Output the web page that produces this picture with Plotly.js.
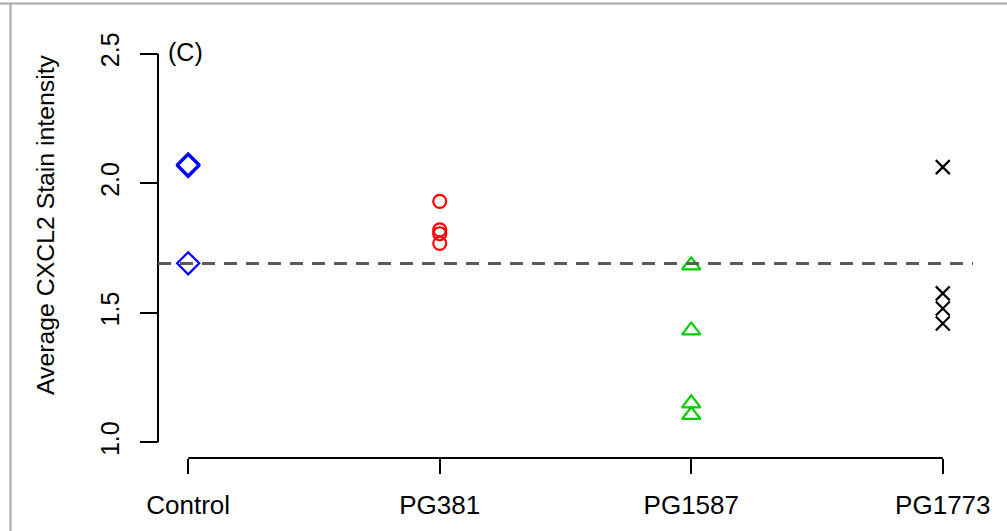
<!DOCTYPE html>
<html>
<head>
<meta charset="utf-8">
<script src="https://cdn.plot.ly/plotly-3.0.1.min.js"></script>
<style>
html,body{margin:0;padding:0;background:#fff;}
#chart{width:1007px;height:531px;}
</style>
</head>
<body>
<div id="chart"></div>
<script>
// ---- data ----
const categories = ["Control", "PG381", "PG1587", "PG1773"];
const controlVals = [2.073, 2.066, 2.07, 1.691];
const pg381Vals = [1.93, 1.82, 1.805, 1.768];
const pg1587Vals = [1.683, 1.432, 1.151, 1.106];
const pg1773Vals = [2.062, 1.575, 1.517, 1.459];
const meanLine = 1.69;
const yTickVals = [1.0, 1.5, 2.0, 2.5];
const yTickText = ["1.0", "1.5", "2.0", "2.5"];
const panelLabel = "(C)";
const yTitle = "Average CXCL2 Stain intensity";

// ---- layout constants ----
const W = 1007, H = 531;
const M = {l: 158, r: 34, t: 38, b: 73};
const plotW = W - M.l - M.r, plotH = H - M.t - M.b;
const xPos = categories.map((c, i) => i + 1);
const font = "Liberation Sans, Arial, Helvetica, sans-serif";

function series(vals, idx, symbol, color, size) {
  return {
    type: "scatter", mode: "markers",
    x: vals.map(() => xPos[idx]), y: vals,
    marker: {symbol: symbol, size: size, color: color, line: {color: color, width: 2.2}},
    hoverinfo: "y", showlegend: false
  };
}

const traces = [
  series(controlVals, 0, "diamond-open", "#0000FF", 17),
  series(pg381Vals, 1, "circle-open", "#FF0000", 13),
  series(pg1587Vals, 2, "triangle-up-open", "#00CD00", 16),
  series(pg1773Vals, 3, "x-thin-open", "#000000", 14)
];

const px2paperX = px => (px - M.l) / plotW;
const px2paperY = py => (H - M.b - py) / plotH;

const shapes = [
  // R-style axis lines spanning first to last tick
  {type: "line", xref: "paper", yref: "y", x0: 0, x1: 0,
   y0: yTickVals[0], y1: yTickVals[yTickVals.length - 1], line: {color: "#000", width: 2}},
  {type: "line", xref: "x", yref: "paper", y0: 0, y1: 0,
   x0: xPos[0], x1: xPos[xPos.length - 1], line: {color: "#000", width: 2}},
  // horizontal dashed reference line
  {type: "line", xref: "paper", yref: "y", x0: 0, x1: 1, y0: meanLine, y1: meanLine,
   line: {color: "#5a5a5a", width: 3, dash: "13px,9px"}},
  // grey frame lines of the figure panel
  {type: "line", xref: "paper", yref: "paper", x0: px2paperX(0), x1: px2paperX(W),
   y0: px2paperY(3.5), y1: px2paperY(3.5), line: {color: "#a8a8a8", width: 2}},
  {type: "line", xref: "paper", yref: "paper", x0: px2paperX(10.5), x1: px2paperX(10.5),
   y0: px2paperY(3.5), y1: px2paperY(H), line: {color: "#a8a8a8", width: 2}}
];

const layout = {
  width: W, height: H,
  margin: M,
  paper_bgcolor: "#fff", plot_bgcolor: "#fff",
  font: {family: font, color: "#000", size: 25},
  xaxis: {
    range: [0.88, 4.12], tickvals: xPos, ticktext: categories,
    showgrid: false, zeroline: false, showline: false,
    ticks: "outside", ticklen: 15, tickwidth: 2, tickcolor: "#000",
    ticklabelstandoff: 9,
    tickfont: {size: 26, family: font}, automargin: false
  },
  yaxis: {
    range: [0.94, 2.56], tickvals: yTickVals, ticktext: yTickText,
    showgrid: false, zeroline: false, showline: false,
    ticks: "outside", ticklen: 17, tickwidth: 2, tickcolor: "#000",
    ticklabelstandoff: 11,
    tickangle: -90, tickfont: {size: 25, family: font},
    automargin: false
  },
  shapes: shapes,
  annotations: [
    {text: panelLabel, xref: "paper", yref: "paper", x: px2paperX(166), y: px2paperY(52),
     xanchor: "left", yanchor: "middle", showarrow: false, font: {size: 25, family: font}},
    {text: yTitle, xref: "paper", yref: "paper", x: px2paperX(45), y: px2paperY(225),
     xanchor: "center", yanchor: "middle", textangle: -90, showarrow: false,
     font: {size: 24.8, family: font}}
  ]
};

Plotly.newPlot("chart", traces, layout, {displayModeBar: false, staticPlot: true});
</script>
</body>
</html>
